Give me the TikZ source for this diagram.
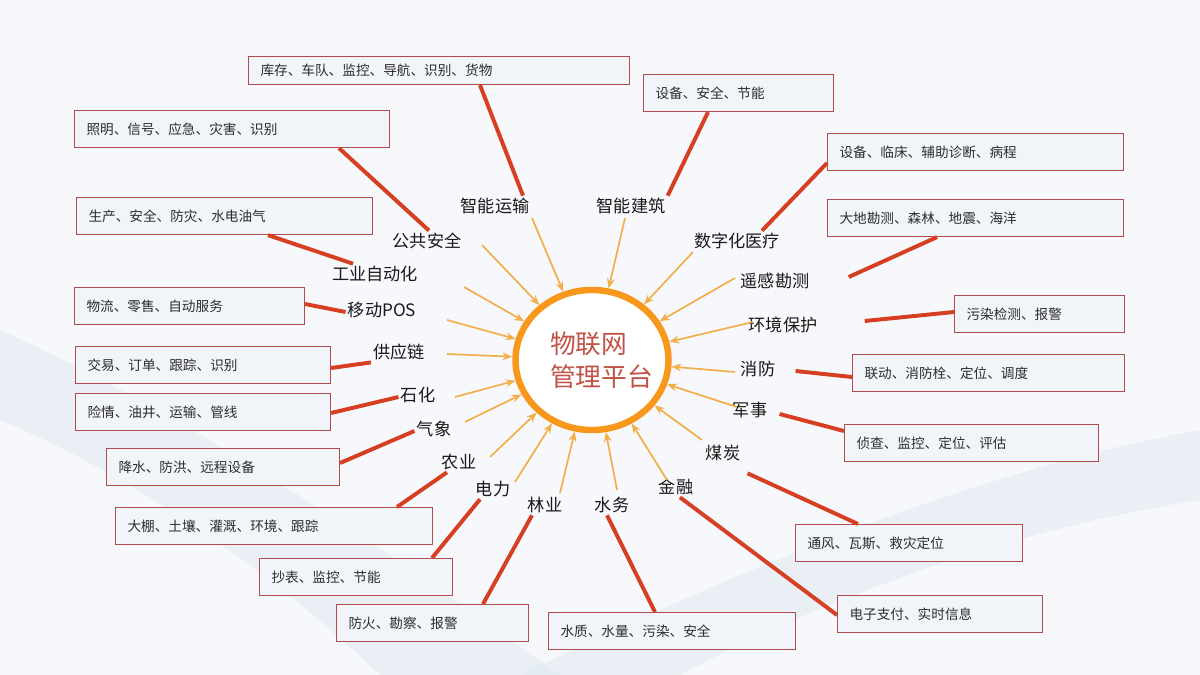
\documentclass[tikz,border=0pt]{standalone}
\usepackage{fontspec}
\newfontfamily\cjk{Noto Sans CJK SC}
\usepackage{tikz}
\usetikzlibrary{arrows.meta,positioning,calc,shapes.geometric}
\definecolor{ink}{RGB}{25,25,25}
\definecolor{paper}{RGB}{246,248,251}
\definecolor{band}{RGB}{226,233,242}
\definecolor{ring}{RGB}{247,152,29}
\definecolor{beam}{RGB}{242,174,72}
\definecolor{wire}{RGB}{214,63,33}
\definecolor{frame}{RGB}{176,76,76}
\definecolor{boxfill}{RGB}{241,244,249}
\definecolor{boxtext}{RGB}{45,45,45}
\definecolor{hubtext}{RGB}{192,82,70}
\tikzset{
  every picture/.style={x=0.025cm, y=-0.025cm, font=\cjk, color=ink},
  hub/.style={ellipse, draw=ring, line width=4.6pt, fill=white, minimum width=108.8pt, minimum height=99.6pt, inner sep=-10pt, align=left, text=hubtext, font=\cjk\fontsize{18.3}{23.5}\selectfont},
  tag/.style={inner sep=1.5pt, text=ink, font=\cjk\fontsize{12.2}{14}\selectfont},
  box/.style={draw=frame, fill=boxfill, line width=0.8pt, anchor=north west, inner xsep=8.5pt, inner ysep=0pt, minimum height=26.3pt, text width=(#1-24)*0.7113pt, align=left, text=boxtext, font=\cjk\fontsize{9.7}{12}\selectfont},
  feed/.style={-{Stealth[length=7pt,width=5.5pt]}, draw=beam, line width=1.2pt},
  link/.style={draw=wire, line width=2.8pt},
}

\begin{document}
\begin{tikzpicture}
  \useasboundingbox (0,0) rectangle (1200,675);
  \fill[paper] (0,0) rectangle (1200,675);
  \fill[band, opacity=0.6] (0,330) .. controls (200,420) and (400,560) .. (560,675) -- (380,675) .. controls (260,560) and (120,470) .. (0,420) -- cycle;
  \fill[band, opacity=0.6] (520,675) .. controls (760,560) and (980,470) .. (1200,430) -- (1200,500) .. controls (1000,530) and (800,610) .. (680,675) -- cycle;
  \node[hub] (hub) at (592,360) {\hspace*{13.5pt}物联网\\\hspace*{13.5pt}管理平台};

  \node[tag] (lab1) at (495,206) {智能运输};
  \node[tag] (lab2) at (631,206) {智能建筑};
  \node[tag] (lab3) at (737,241) {数字化医疗};
  \node[tag] (lab4) at (775,281) {遥感勘测};
  \node[tag] (lab5) at (783,325) {环境保护};
  \node[tag] (lab6) at (758,369) {消防};
  \node[tag] (lab7) at (750,410) {军事};
  \node[tag] (lab8) at (723,453) {煤炭};
  \node[tag] (lab9) at (676,487) {金融};
  \node[tag] (lab10) at (612,505) {水务};
  \node[tag] (lab11) at (545,505) {林业};
  \node[tag] (lab12) at (493,489) {电力};
  \node[tag] (lab13) at (459,462) {农业};
  \node[tag] (lab14) at (434,429) {气象};
  \node[tag] (lab15) at (418,395) {石化};
  \node[tag] (lab16) at (399,352) {供应链};
  \node[tag] (lab17) at (382,310) {移动POS};
  \node[tag] (lab18) at (375,274) {工业自动化};
  \node[tag] (lab19) at (427,241) {公共安全};

  \node[box=381, minimum height=19.9pt] (box1) at (248,56) {库存、车队、监控、导航、识别、货物};
  \node[box=190] (box2) at (643,74) {设备、安全、节能};
  \node[box=296] (box3) at (827,133) {设备、临床、辅助诊断、病程};
  \node[box=296] (box4) at (827,199) {大地勘测、森林、地震、海洋};
  \node[box=170] (box5) at (954,295) {污染检测、报警};
  \node[box=272] (box6) at (852,354) {联动、消防栓、定位、调度};
  \node[box=254] (box7) at (844,424) {侦查、监控、定位、评估};
  \node[box=227] (box8) at (795,524) {通风、瓦斯、救灾定位};
  \node[box=205] (box9) at (837,595) {电子支付、实时信息};
  \node[box=247] (box10) at (548,612) {水质、水量、污染、安全};
  \node[box=192] (box11) at (336,604) {防火、勘察、报警};
  \node[box=193] (box12) at (259,558) {抄表、监控、节能};
  \node[box=317] (box13) at (115,507) {大棚、土壤、灌溉、环境、跟踪};
  \node[box=233] (box14) at (106,448) {降水、防洪、远程设备};
  \node[box=255] (box15) at (75,393) {险情、油井、运输、管线};
  \node[box=255] (box16) at (75,346) {交易、订单、跟踪、识别};
  \node[box=230] (box17) at (74,287) {物流、零售、自动服务};
  \node[box=296] (box18) at (76,197) {生产、安全、防灾、水电油气};
  \node[box=315] (box19) at (74,110) {照明、信号、应急、灾害、识别};

  \draw[link] (box1.south -| 480,0) -- (lab1.north -| 523,0);
  \draw[link] (box2.south -| 708,0) -- (lab2.north east);
  \draw[link] (box3.west |- 0,163) -- (lab3.north -| 762,0);
  \draw[link] (box4.south -| 937,0) -- ($(lab4.east)+(37,-4)$);
  \draw[link] (box5.west |- 0,312) -- ($(lab5.east)+(45,-4)$);
  \draw[link] (box6.west |- 0,377) -- ($(lab6.east)+(18,2)$);
  \draw[link] (box7.west |- 0,431) -- ($(lab7.east)+(10,4)$);
  \draw[link] (box8.north -| 858,0) -- ($(lab8.south east)+(5,10)$);
  \draw[link] (box9.west |- 0,615) -- (lab9.south -| 680,0);
  \draw[link] (box10.north -| 655,0) -- (lab10.south -| 607,0);
  \draw[link] (box11.north -| 483,0) -- (lab11.south -| 532,0);
  \draw[link] (box12.north -| 432,0) -- (lab12.south -| 480,0);
  \draw[link] (box13.north -| 397,0) -- (lab13.south -| 447,0);
  \draw[link] (box14.east |- 0,463) -- (lab14.west |- 0,431);
  \draw[link] (box15.east |- 0,413) -- (lab15.west |- 0,397);
  \draw[link] (box16.east |- 0,368) -- (lab16.south west);
  \draw[link] (box17.east |- 0,304) -- (lab17.west |- 0,312);
  \draw[link] (box18.south -| 268,0) -- (lab18.north -| 353,0);
  \draw[link] (box19.south -| 339,0) -- (lab19.north -| 429,0);

  \coordinate (t1) at (532,218);
  \coordinate (t2) at (625,218);
  \coordinate (t3) at (693,252);
  \coordinate (t4) at (735,278);
  \coordinate (t5) at (753,322);
  \coordinate (t6) at (735,372);
  \coordinate (t7) at (737,407);
  \coordinate (t8) at (702,440);
  \coordinate (t9) at (667,480);
  \coordinate (t10) at (617,490);
  \coordinate (t11) at (560,493);
  \coordinate (t12) at (515,482);
  \coordinate (t13) at (490,457);
  \coordinate (t14) at (465,422);
  \coordinate (t15) at (455,397);
  \coordinate (t16) at (447,354);
  \coordinate (t17) at (447,320);
  \coordinate (t18) at (464,287);
  \coordinate (t19) at (482,245);
  \draw[feed] (t1) -- (hub);
  \draw[feed] (t2) -- (hub);
  \draw[feed] (t3) -- (hub);
  \draw[feed] (t4) -- (hub);
  \draw[feed] (t5) -- (hub);
  \draw[feed] (t6) -- (hub);
  \draw[feed] (t7) -- (hub);
  \draw[feed] (t8) -- (hub);
  \draw[feed] (t9) -- (hub);
  \draw[feed] (t10) -- (hub);
  \draw[feed] (t11) -- (hub);
  \draw[feed] (t12) -- (hub);
  \draw[feed] (t13) -- (hub);
  \draw[feed] (t14) -- (hub);
  \draw[feed] (t15) -- (hub);
  \draw[feed] (t16) -- (hub);
  \draw[feed] (t17) -- (hub);
  \draw[feed] (t18) -- (hub);
  \draw[feed] (t19) -- (hub);
\end{tikzpicture}
\end{document}
